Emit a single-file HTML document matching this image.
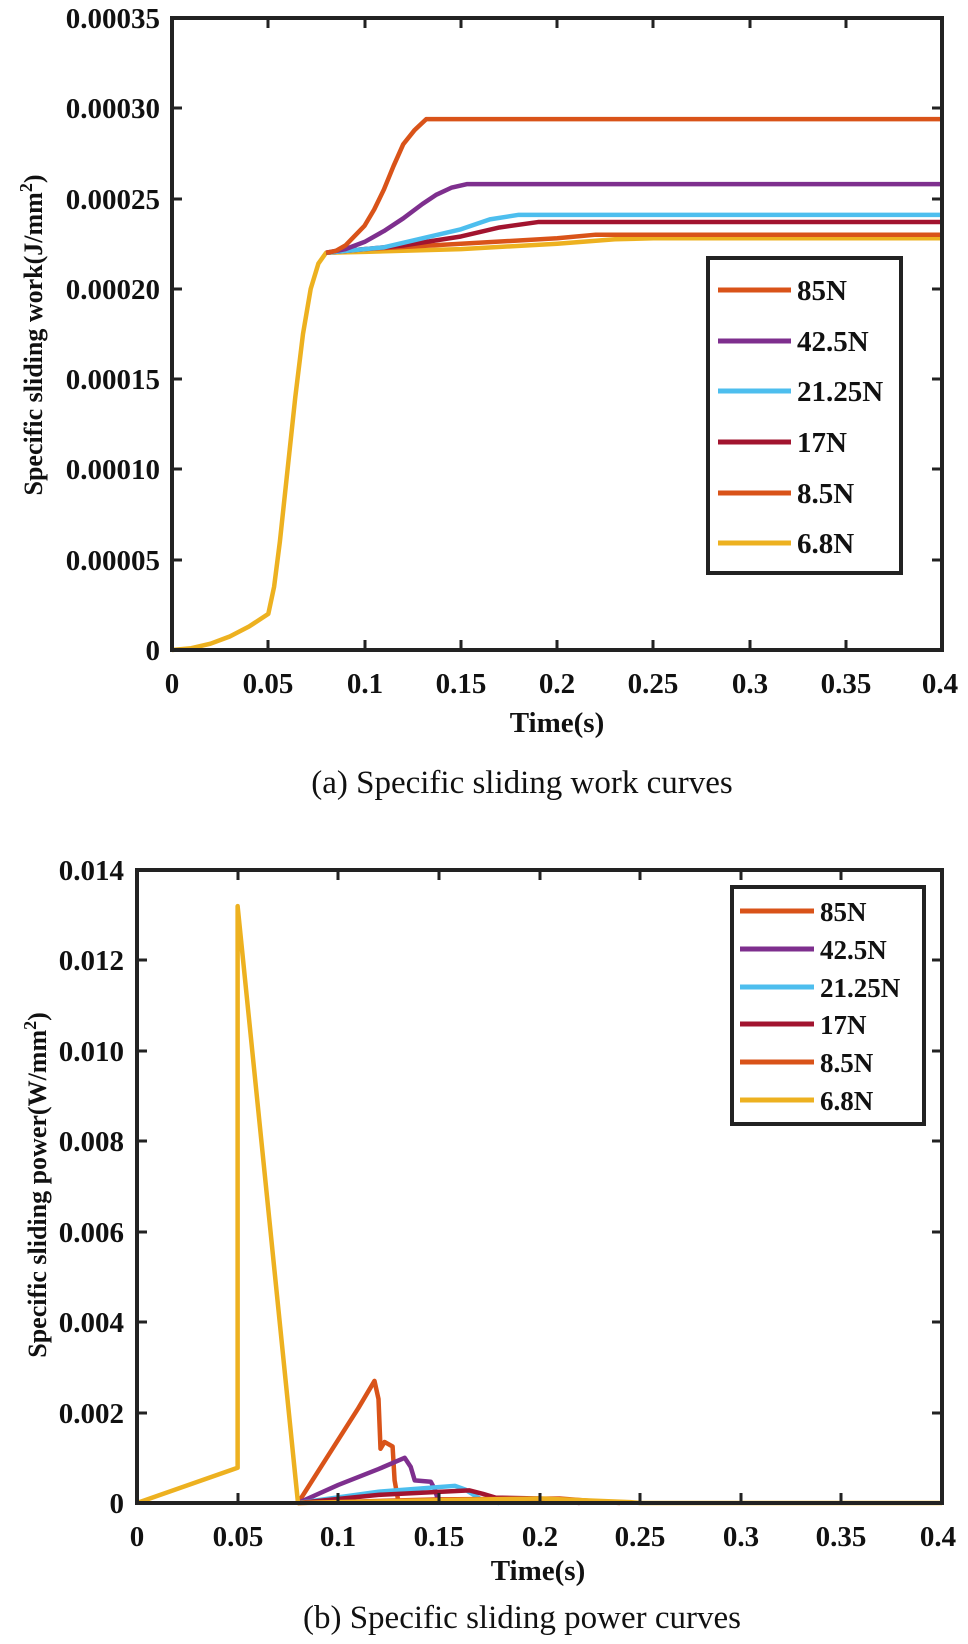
<!DOCTYPE html>
<html><head><meta charset="utf-8"><style>
html,body{margin:0;padding:0;background:#fff;}
svg{display:block;}
text{font-family:"Liberation Serif",serif;fill:#111;}
.t{font-size:29px;font-weight:bold;}
.l{font-size:29px;font-weight:bold;}
.c{font-size:33px;}
path.d{fill:none;stroke-width:4.5;vector-effect:non-scaling-stroke;stroke-linejoin:round;}
</style></head><body>
<svg width="968" height="1644" viewBox="0 0 968 1644" xmlns="http://www.w3.org/2000/svg">
<g transform="translate(172,650) scale(1926.25,-18.057)">
<path class="d" stroke="#EDB120" d="M0,0 L0.01,0.1 L0.02,0.35 L0.03,0.75 L0.04,1.3 L0.05,2 L0.053,3.5 L0.056,6 L0.06,10 L0.064,14 L0.068,17.5 L0.072,20 L0.076,21.4 L0.08,22 L0.1,22.05 L0.15,22.2 L0.2,22.5 L0.23,22.75 L0.25,22.8 L0.4,22.8"/>
<path class="d" stroke="#D95319" d="M0.08,22 L0.1,22.2 L0.15,22.5 L0.2,22.8 L0.22,23 L0.4,23"/>
<path class="d" stroke="#A2142F" d="M0.08,22 L0.12,22.4 L0.15,22.9 L0.17,23.4 L0.19,23.7 L0.4,23.7"/>
<path class="d" stroke="#4DBEEE" d="M0.08,22 L0.11,22.3 L0.13,22.8 L0.15,23.3 L0.165,23.85 L0.18,24.1 L0.4,24.1"/>
<path class="d" stroke="#7E2F8E" d="M0.08,22 L0.09,22.2 L0.1,22.6 L0.11,23.2 L0.12,23.9 L0.13,24.7 L0.137,25.2 L0.145,25.6 L0.153,25.8 L0.4,25.8"/>
<path class="d" stroke="#D95319" d="M0.08,22 L0.085,22.1 L0.09,22.4 L0.1,23.5 L0.105,24.4 L0.11,25.5 L0.115,26.8 L0.12,28 L0.126,28.8 L0.132,29.4 L0.4,29.4"/>
</g>
<rect x="172" y="18" width="770" height="632" fill="none" stroke="#222" stroke-width="4"/>
<g stroke="#222" stroke-width="3">
<line x1="268" y1="650" x2="268" y2="640"/><line x1="365" y1="650" x2="365" y2="640"/><line x1="461" y1="650" x2="461" y2="640"/><line x1="557" y1="650" x2="557" y2="640"/><line x1="653" y1="650" x2="653" y2="640"/><line x1="750" y1="650" x2="750" y2="640"/><line x1="846" y1="650" x2="846" y2="640"/>
<line x1="268" y1="18" x2="268" y2="28"/><line x1="365" y1="18" x2="365" y2="28"/><line x1="461" y1="18" x2="461" y2="28"/><line x1="557" y1="18" x2="557" y2="28"/><line x1="653" y1="18" x2="653" y2="28"/><line x1="750" y1="18" x2="750" y2="28"/><line x1="846" y1="18" x2="846" y2="28"/>
<line x1="172" y1="560" x2="182" y2="560"/><line x1="172" y1="469" x2="182" y2="469"/><line x1="172" y1="379" x2="182" y2="379"/><line x1="172" y1="289" x2="182" y2="289"/><line x1="172" y1="199" x2="182" y2="199"/><line x1="172" y1="108" x2="182" y2="108"/>
<line x1="942" y1="560" x2="932" y2="560"/><line x1="942" y1="469" x2="932" y2="469"/><line x1="942" y1="379" x2="932" y2="379"/><line x1="942" y1="289" x2="932" y2="289"/><line x1="942" y1="199" x2="932" y2="199"/><line x1="942" y1="108" x2="932" y2="108"/>
</g>
<g class="t" text-anchor="end">
<text x="160" y="660">0</text><text x="160" y="570">0.00005</text><text x="160" y="479">0.00010</text><text x="160" y="389">0.00015</text><text x="160" y="299">0.00020</text><text x="160" y="209">0.00025</text><text x="160" y="118">0.00030</text><text x="160" y="28">0.00035</text>
</g>
<g class="t" text-anchor="middle">
<text x="172" y="693">0</text><text x="268" y="693">0.05</text><text x="365" y="693">0.1</text><text x="461" y="693">0.15</text><text x="557" y="693">0.2</text><text x="653" y="693">0.25</text><text x="750" y="693">0.3</text><text x="846" y="693">0.35</text><text x="940" y="693">0.4</text>
<text x="557" y="732">Time(s)</text>
</g>
<text class="t" text-anchor="middle" transform="translate(42,335) rotate(-90)" style="font-size:26px">Specific sliding work(J/mm<tspan dy="-10" style="font-size:18px">2</tspan><tspan dy="10">)</tspan></text>
<text class="c" x="522" y="793" text-anchor="middle">(a) Specific sliding work  curves</text>
<rect x="708" y="258" width="193" height="315" fill="#fff" stroke="#222" stroke-width="4"/>
<g stroke-width="5">
<line x1="718" y1="290" x2="791" y2="290" stroke="#D95319"/>
<line x1="718" y1="341" x2="791" y2="341" stroke="#7E2F8E"/>
<line x1="718" y1="391" x2="791" y2="391" stroke="#4DBEEE"/>
<line x1="718" y1="442" x2="791" y2="442" stroke="#A2142F"/>
<line x1="718" y1="493" x2="791" y2="493" stroke="#D95319"/>
<line x1="718" y1="543" x2="791" y2="543" stroke="#EDB120"/>
</g>
<g class="l">
<text x="797" y="300">85N</text><text x="797" y="351">42.5N</text><text x="797" y="401">21.25N</text><text x="797" y="452">17N</text><text x="797" y="503">8.5N</text><text x="797" y="553">6.8N</text>
</g>

<g transform="translate(137,1503) scale(2012.5,-45.214)">
<path class="d" stroke="#D95319" d="M0.08,0 L0.09,0.7 L0.1,1.4 L0.11,2.1 L0.118,2.7 L0.12,2.3 L0.121,1.2 L0.123,1.35 L0.127,1.25 L0.128,0.5 L0.13,0"/>
<path class="d" stroke="#7E2F8E" d="M0.08,0 L0.1,0.4 L0.12,0.75 L0.133,1 L0.136,0.8 L0.138,0.5 L0.146,0.47 L0.148,0.3 L0.15,0"/>
<path class="d" stroke="#4DBEEE" d="M0.08,0 L0.12,0.25 L0.158,0.38 L0.163,0.3 L0.172,0.05 L0.18,0"/>
<path class="d" stroke="#A2142F" d="M0.08,0 L0.12,0.18 L0.165,0.28 L0.172,0.2 L0.178,0.12 L0.2,0.1 L0.21,0.05 L0.22,0"/>
<path class="d" stroke="#D95319" d="M0.08,0 L0.15,0.08 L0.21,0.1 L0.23,0.03 L0.24,0"/>
<path class="d" stroke="#EDB120" d="M0,0 L0.05,0.78 L0.05,13.2 L0.08,0 L0.15,0.06 L0.2,0.1 L0.245,0.02 L0.25,0 L0.4,0"/>
</g>
<rect x="137" y="870" width="805" height="633" fill="none" stroke="#222" stroke-width="4"/>
<g stroke="#222" stroke-width="3">
<line x1="238" y1="1503" x2="238" y2="1493"/><line x1="338" y1="1503" x2="338" y2="1493"/><line x1="439" y1="1503" x2="439" y2="1493"/><line x1="540" y1="1503" x2="540" y2="1493"/><line x1="640" y1="1503" x2="640" y2="1493"/><line x1="741" y1="1503" x2="741" y2="1493"/><line x1="841" y1="1503" x2="841" y2="1493"/>
<line x1="238" y1="870" x2="238" y2="880"/><line x1="338" y1="870" x2="338" y2="880"/><line x1="439" y1="870" x2="439" y2="880"/><line x1="540" y1="870" x2="540" y2="880"/><line x1="640" y1="870" x2="640" y2="880"/><line x1="741" y1="870" x2="741" y2="880"/><line x1="841" y1="870" x2="841" y2="880"/>
<line x1="137" y1="1413" x2="147" y2="1413"/><line x1="137" y1="1322" x2="147" y2="1322"/><line x1="137" y1="1232" x2="147" y2="1232"/><line x1="137" y1="1141" x2="147" y2="1141"/><line x1="137" y1="1051" x2="147" y2="1051"/><line x1="137" y1="960" x2="147" y2="960"/>
<line x1="942" y1="1413" x2="932" y2="1413"/><line x1="942" y1="1322" x2="932" y2="1322"/><line x1="942" y1="1232" x2="932" y2="1232"/><line x1="942" y1="1141" x2="932" y2="1141"/><line x1="942" y1="1051" x2="932" y2="1051"/><line x1="942" y1="960" x2="932" y2="960"/>
</g>
<g class="t" text-anchor="end">
<text x="124" y="1513">0</text><text x="124" y="1423">0.002</text><text x="124" y="1332">0.004</text><text x="124" y="1242">0.006</text><text x="124" y="1151">0.008</text><text x="124" y="1061">0.010</text><text x="124" y="970">0.012</text><text x="124" y="880">0.014</text>
</g>
<g class="t" text-anchor="middle">
<text x="137" y="1546">0</text><text x="238" y="1546">0.05</text><text x="338" y="1546">0.1</text><text x="439" y="1546">0.15</text><text x="540" y="1546">0.2</text><text x="640" y="1546">0.25</text><text x="741" y="1546">0.3</text><text x="841" y="1546">0.35</text><text x="938" y="1546">0.4</text>
<text x="538" y="1580">Time(s)</text>
</g>
<text class="t" text-anchor="middle" transform="translate(46,1185) rotate(-90)" style="font-size:26px">Specific sliding power(W/mm<tspan dy="-10" style="font-size:18px">2</tspan><tspan dy="10">)</tspan></text>
<text class="c" x="522" y="1628" text-anchor="middle">(b) Specific sliding power curves</text>
<rect x="732" y="887" width="192" height="237" fill="#fff" stroke="#222" stroke-width="4"/>
<g stroke-width="5">
<line x1="740" y1="911" x2="814" y2="911" stroke="#D95319"/>
<line x1="740" y1="949" x2="814" y2="949" stroke="#7E2F8E"/>
<line x1="740" y1="987" x2="814" y2="987" stroke="#4DBEEE"/>
<line x1="740" y1="1024" x2="814" y2="1024" stroke="#A2142F"/>
<line x1="740" y1="1062" x2="814" y2="1062" stroke="#D95319"/>
<line x1="740" y1="1100" x2="814" y2="1100" stroke="#EDB120"/>
</g>
<g class="l" style="font-size:27px">
<text x="820" y="921">85N</text><text x="820" y="959">42.5N</text><text x="820" y="997">21.25N</text><text x="820" y="1034">17N</text><text x="820" y="1072">8.5N</text><text x="820" y="1110">6.8N</text>
</g>
</svg>
</body></html>
